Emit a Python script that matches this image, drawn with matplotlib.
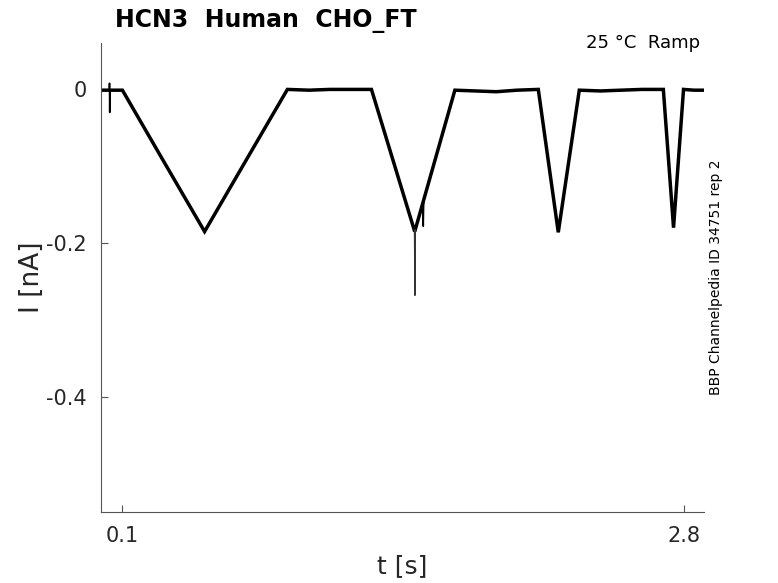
import matplotlib
matplotlib.use("Agg")
import matplotlib.pyplot as plt

# Breakpoints of the recorded trace (time in s, current in nA)
t_trace = [0.0, 0.030, 0.060, 0.103, 0.300, 0.498,
           0.700, 0.896, 1.000, 1.100, 1.200, 1.300, 1.508, 1.701, 1.800, 1.900,
           2.000, 2.102, 2.198, 2.299, 2.400, 2.500, 2.600, 2.703, 2.752, 2.800,
           2.850, 2.900]
i_trace = [-0.001, -0.001, -0.001, -0.001, -0.093, -0.185,
           -0.091, 0.000, -0.001, 0.000, 0.000, 0.000, -0.185, -0.001, -0.002, -0.003,
           -0.001, 0.000, -0.186, -0.001, -0.002, -0.001, 0.000, 0.000, -0.180, 0.000,
           -0.001, -0.001]

# Brief artefact spikes riding on the trace (time in s, current in nA)
spike1_t = [0.040, 0.041, 0.042, 0.043]
spike1_i = [-0.001, 0.008, -0.030, -0.001]
spike2_t = [1.507, 1.509, 1.511]
spike2_i = [-0.183, -0.268, -0.183]
spike3_t = [1.547, 1.549, 1.551]
spike3_i = [-0.148, -0.178, -0.146]

x_ticks = [0.1, 2.8]
x_tick_labels = ["0.1", "2.8"]
y_ticks = [-0.4, -0.2, 0.0]
y_tick_labels = ["-0.4", "-0.2", "0"]

title_text = "HCN3  Human  CHO_FT"
cond_text = "25 °C  Ramp"
side_text = "BBP Channelpedia ID 34751 rep 2"

plt.rcParams['font.family'] = ['DejaVu Sans']
fig = plt.figure(figsize=(7.78, 5.83), dpi=100)
ax = fig.add_axes([0.1298, 0.1218, 0.7755, 0.8039])

ax.plot(t_trace, i_trace, color='black', linewidth=2.5, solid_joinstyle='miter')
ax.plot(spike1_t, spike1_i, color='black', linewidth=1.2)
ax.plot(spike2_t, spike2_i, color='#333333', linewidth=1.0)
ax.plot(spike3_t, spike3_i, color='black', linewidth=1.2)

ax.set_xlim(0, 2.9)
ax.set_ylim(-0.55, 0.06)
ax.set_xticks(x_ticks)
ax.set_xticklabels(x_tick_labels)
ax.set_yticks(y_ticks)
ax.set_yticklabels(y_tick_labels)

for s in ['top', 'right']:
    ax.spines[s].set_visible(False)
for s in ['left', 'bottom']:
    ax.spines[s].set_color('#555555')
    ax.spines[s].set_linewidth(0.8)

ax.tick_params(direction='in', length=5, width=0.8, colors='#555555',
               labelcolor='#262626', labelsize=15, pad=10)

ax.set_xlabel("t [s]", fontsize=18, color='#262626', labelpad=6)
ax.set_ylabel("I [nA]", fontsize=19, color='#262626', labelpad=1)

fig.text(115 / 778, 1 - 27 / 583, title_text, fontsize=17, fontweight='bold',
         ha='left', va='baseline', color='black')
fig.text(700 / 778, 1 - 48 / 583, cond_text, fontsize=13, ha='right',
         va='baseline', color='black')
fig.text(716 / 778, 1 - 277 / 583, side_text, fontsize=10, rotation=90,
         ha='center', va='center', color='black')

fig.savefig("out.png", dpi=100)
